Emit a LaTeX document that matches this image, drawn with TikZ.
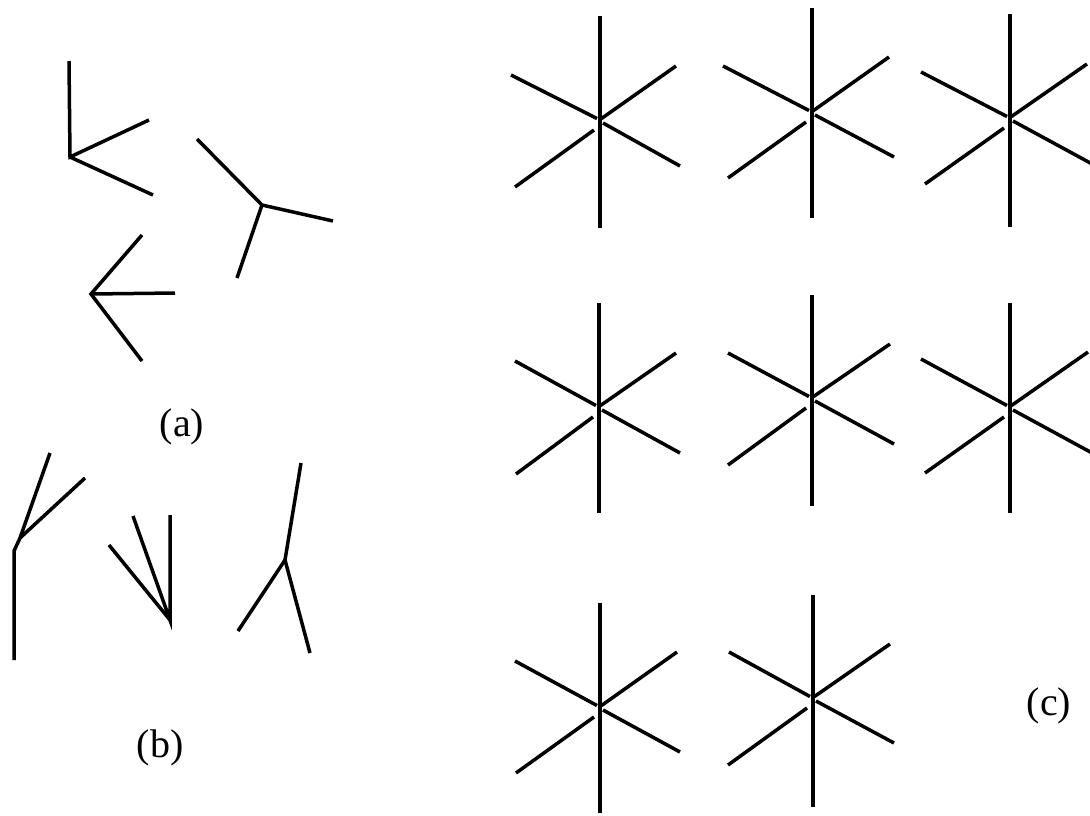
\documentclass[tikz,border=0pt]{standalone}
\usepackage{fontspec}
\setmainfont{Liberation Serif}
\tikzset{
  stroke/.style={line width=3.5pt, line cap=butt, line join=miter, black},
  lbl/.style={font=\fontsize{40}{44}\selectfont, inner sep=0pt}
}
% #1 cx, #2 cy, #3 top, #4 bottom (relative), #5 UL, #6 UR, #7 LL, #8 LR (relative endpoints)
\newcommand\sixstar[8]{%
  \begin{scope}[shift={(#1,#2)}]
    \coordinate (c) at (0,0);
    \draw[stroke] (0,#3) -- (0,#4);
    \draw[stroke] (#5) -- (-3,-1.5);
    \draw[stroke] (#8) -- (3,3);
    \draw[stroke] (#7) -- (-6,10);
    \draw[stroke] (#6) -- (1.5,-1.5);
  \end{scope}}
\begin{document}
\begin{tikzpicture}[x=1pt,y=-1pt]
\useasboundingbox (0,0) rectangle (1090,815);
\clip (0,0) rectangle (1090,815);
% (a)
\coordinate (a1) at (70,157);
\draw[stroke] (69,61) -- (a1) -- (149,120);
\draw[stroke] (a1) -- (153,195);
\coordinate (a2) at (262,205);
\draw[stroke] (197,139) -- (a2) -- (333,221);
\draw[stroke] (a2) -- (237,278);
\coordinate (a3) at (91,294);
\draw[stroke] (142,235) -- (a3) -- (142,361);
\draw[stroke] (a3) -- (175,293);
\node[lbl] (la) at (182,427) {(a)};
% (b)
\coordinate (b1) at (20,538);
\draw[stroke] (14,660) -- (14,551) -- (b1) -- (50,453);
\draw[stroke] (b1) -- (85,478);
\coordinate (b2) at (170,620);
\draw[stroke] (170,515) -- (b2) -- (133,516);
\draw[stroke] (b2) -- (109,545);
\coordinate (b3) at (285,560);
\draw[stroke] (301,463) -- (b3) -- (310,653);
\draw[stroke] (b3) -- (238,631);
\node[lbl] (lb) at (160,748) {(b)};
% (c)
\sixstar{600}{120}{-104}{108}{-89,-45}{76,-54}{-85,67}{80,46}
\sixstar{812}{112}{-104}{106}{-89,-46}{77,-55}{-84,66}{82,45}
\sixstar{1010}{118}{-104}{109}{-89,-46}{77,-54}{-85,66}{84,47}
\sixstar{599}{407}{-104}{106}{-84,-46}{77,-54}{-83,67}{81,46}
\sixstar{812}{398}{-103}{108}{-84,-45}{78,-54}{-84,67}{82,46}
\sixstar{1010}{407}{-104}{106}{-89,-48}{78,-55}{-85,66}{84,47}
\sixstar{600}{707}{-104}{106}{-85,-46}{77,-55}{-84,66}{80,45}
\sixstar{813}{698}{-103}{109}{-84,-46}{77,-54}{-85,67}{81,45}
\node[lbl] (lc) at (1049,706) {(c)};
\end{tikzpicture}
\end{document}
